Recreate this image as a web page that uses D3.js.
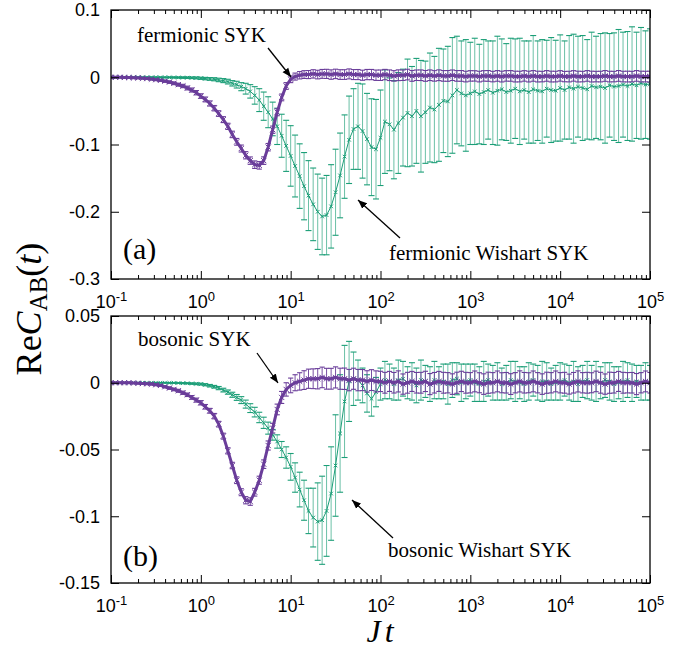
<!DOCTYPE html>
<html>
<head>
<meta charset="utf-8">
<script src="https://cdn.jsdelivr.net/npm/d3@7"></script>
<style>
  body { margin: 0; background: #fff; }
  text { fill: #000; }
</style>
</head>
<body>
<div id="chart"></div>
<script>
// time grid Jt (20 points per decade)
const jt = [
  0.1,0.112,0.126,0.141,0.158,0.178,0.2,0.224,0.251,0.282,0.316,0.355,0.398,0.447,0.501,0.562,0.631,0.708,0.794,0.891,
  1,1.12,1.26,1.41,1.58,1.78,2,2.24,2.51,2.82,3.16,3.55,3.98,4.47,5.01,5.62,6.31,7.08,7.94,8.91,
  10,11.2,12.6,14.1,15.8,17.8,20,22.4,25.1,28.2,31.6,35.5,39.8,44.7,50.1,56.2,63.1,70.8,79.4,89.1,
  100,112,126,141,158,178,200,224,251,282,316,355,398,447,501,562,631,708,794,891,
  1000,1120,1260,1410,1580,1780,2000,2240,2510,2820,3160,3550,3980,4470,5010,5620,6310,7080,7940,8910,
  10000,11200,12600,14100,15800,17800,20000,22400,25100,28200,31600,35500,39800,44700,50100,56200,63100,70800,79400,89100,
  100000
];

// (a) fermionic SYK
const fermionicSYK = [
  0,0,0,-0.0003,-0.0005,-0.0008,-0.001,-0.0015,-0.002,-0.0028,-0.0036,-0.0046,-0.0058,-0.0072,-0.009,-0.011,-0.013,-0.016,-0.019,-0.023,
  -0.028,-0.033,-0.039,-0.046,-0.054,-0.063,-0.073,-0.085,-0.096,-0.106,-0.116,-0.124,-0.13,-0.131,-0.124,-0.104,-0.078,-0.052,-0.03,-0.013,
  -0.003,0.001,0.003,0.004,0.004,0.005,0.004,0.005,0.005,0.004,0.005,0.004,0.004,0.005,0.004,0.004,0.003,0.004,0.004,0.003,
  0.003,0.004,0.003,0.002,0.003,0.003,0.004,0.002,0.003,0.003,0.002,0.003,0.002,0.003,0.002,0.002,0.003,0.002,0.002,0.001,
  0.002,0.002,0.001,0.002,0.002,0.001,0.002,0.001,0.002,0.002,0.001,0.001,0.002,0.001,0.002,0.001,0.001,0.002,0.001,0.001,
  0.002,0.001,0.001,0.002,0.001,0.001,0.002,0.001,0.001,0.001,0.002,0.001,0.001,0.002,0.001,0.001,0.001,0.002,0.001,0.001,0.001
];
const fermionicSYKErr = [
  0.0005,0.0005,0.0005,0.0006,0.0006,0.0007,0.0008,0.0009,0.001,0.0011,0.0012,0.0014,0.0016,0.0018,0.002,0.0022,0.0025,0.0028,0.003,0.0032,
  0.0034,0.0036,0.0038,0.004,0.0042,0.0044,0.0046,0.0048,0.005,0.0052,0.0054,0.0055,0.0056,0.0056,0.0056,0.0055,0.0054,0.0052,0.005,0.005,
  0.005,0.0052,0.0055,0.0058,0.006,0.0062,0.0064,0.0066,0.0068,0.007,0.007,0.0072,0.0072,0.0074,0.0074,0.0075,0.0075,0.0076,0.0076,0.0077,
  0.0078,0.0077,0.0079,0.0078,0.008,0.0078,0.0079,0.008,0.0078,0.0079,0.008,0.0079,0.0078,0.008,0.0079,0.008,0.0078,0.0079,0.008,0.0079,
  0.0078,0.0077,0.0079,0.0078,0.008,0.0078,0.0079,0.008,0.0078,0.0079,0.008,0.0079,0.0078,0.008,0.0079,0.008,0.0078,0.0079,0.008,0.0079,
  0.0078,0.0077,0.0079,0.0078,0.008,0.0078,0.0079,0.008,0.0078,0.0079,0.008,0.0079,0.0078,0.008,0.0079,0.008,0.0078,0.0079,0.008,0.0079,0.008
];

// (a) fermionic Wishart SYK
const fermionicWishart = [
  0,0,0,0,0,0,0,0,0,0,-0.0001,-0.0001,-0.0002,-0.0002,-0.0003,-0.0004,-0.0005,-0.0006,-0.0008,-0.001,
  -0.0015,-0.002,-0.0025,-0.003,-0.004,-0.005,-0.0065,-0.009,-0.011,-0.014,-0.017,-0.021,-0.027,-0.034,-0.043,-0.052,-0.062,-0.073,-0.087,-0.102,
  -0.117,-0.132,-0.147,-0.162,-0.176,-0.189,-0.2,-0.207,-0.205,-0.192,-0.171,-0.146,-0.118,-0.093,-0.077,-0.073,-0.08,-0.092,-0.104,-0.107,
  -0.09,-0.066,-0.07,-0.078,-0.068,-0.06,-0.053,-0.058,-0.05,-0.058,-0.052,-0.045,-0.048,-0.041,-0.035,-0.036,-0.027,-0.019,-0.024,-0.027,
  -0.024,-0.021,-0.025,-0.022,-0.019,-0.023,-0.02,-0.018,-0.022,-0.02,-0.017,-0.021,-0.019,-0.022,-0.018,-0.02,-0.021,-0.017,-0.019,-0.02,
  -0.016,-0.019,-0.015,-0.017,-0.014,-0.016,-0.018,-0.013,-0.015,-0.014,-0.016,-0.012,-0.014,-0.013,-0.011,-0.013,-0.01,-0.012,-0.009,-0.011,-0.01
];
const fermionicWishartErr = [
  0.0002,0.0002,0.0002,0.0002,0.0003,0.0003,0.0003,0.0004,0.0004,0.0005,0.0005,0.0006,0.0006,0.0007,0.0008,0.0009,0.001,0.0011,0.0012,0.0014,
  0.0016,0.0018,0.002,0.0023,0.0026,0.003,0.0035,0.004,0.005,0.006,0.008,0.01,0.013,0.017,0.021,0.023,0.025,0.027,0.032,0.038,
  0.045,0.046,0.048,0.05,0.052,0.054,0.056,0.057,0.059,0.062,0.064,0.063,0.062,0.065,0.06,0.064,0.07,0.068,0.072,0.074,
  0.071,0.077,0.069,0.073,0.075,0.072,0.08,0.074,0.078,0.083,0.076,0.081,0.079,0.084,0.077,0.082,0.086,0.08,0.078,0.083,
  0.076,0.079,0.074,0.078,0.073,0.077,0.081,0.075,0.072,0.078,0.074,0.079,0.073,0.076,0.08,0.074,0.077,0.072,0.078,0.075,
  0.079,0.073,0.077,0.081,0.075,0.078,0.074,0.08,0.076,0.079,0.082,0.077,0.08,0.084,0.078,0.081,0.085,0.079,0.083,0.08,0.082
];

// (b) bosonic SYK
const bosonicSYK = [
  0,0,0,0,0,-0.0002,-0.0004,-0.0006,-0.0008,-0.001,-0.0015,-0.002,-0.003,-0.004,-0.005,-0.006,-0.0075,-0.009,-0.011,-0.013,
  -0.015,-0.018,-0.021,-0.025,-0.031,-0.04,-0.051,-0.062,-0.073,-0.082,-0.088,-0.089,-0.082,-0.073,-0.061,-0.047,-0.034,-0.02,-0.011,-0.005,
  -0.002,0,0.001,0.002,0.003,0.003,0.003,0.004,0.003,0.003,0.004,0.003,0.003,0.002,0.003,0.002,0.002,0.001,0.002,0.001,
  0.001,0,0.001,0,0.001,-0.001,0,0.001,0,0,0.001,-0.001,0,0.001,0,0,-0.001,0,0.001,0,
  0,0.001,0,-0.001,0,0,0.001,0,0,-0.001,0,0.001,0,0,0.001,0,-0.001,0,0,0.001,
  0,0,-0.001,0,0.001,0,0,0,0.001,0,-0.001,0,0,0.001,0,0,0,-0.001,0,0.001,0
];
const bosonicSYKErr = [
  0.0003,0.0003,0.0003,0.0003,0.0004,0.0004,0.0004,0.0005,0.0005,0.0006,0.0006,0.0007,0.0008,0.0009,0.001,0.0011,0.0012,0.0013,0.0014,0.0015,
  0.0016,0.0017,0.0018,0.002,0.0021,0.0022,0.0023,0.0024,0.0025,0.0026,0.0027,0.0028,0.0029,0.003,0.0032,0.0034,0.0036,0.004,0.0045,0.005,
  0.0055,0.006,0.0065,0.007,0.0072,0.0074,0.0076,0.0077,0.0078,0.0078,0.0079,0.0079,0.008,0.008,0.0079,0.008,0.0079,0.008,0.0078,0.0079,
  0.0076,0.0078,0.0075,0.0077,0.0079,0.0076,0.0078,0.0075,0.0077,0.0078,0.0076,0.0079,0.0077,0.0075,0.0078,0.0076,0.0077,0.0079,0.0076,0.0078,
  0.0076,0.0078,0.0075,0.0077,0.0079,0.0076,0.0078,0.0075,0.0077,0.0078,0.0076,0.0079,0.0077,0.0075,0.0078,0.0076,0.0077,0.0079,0.0076,0.0078,
  0.0076,0.0078,0.0075,0.0077,0.0079,0.0076,0.0078,0.0075,0.0077,0.0078,0.0076,0.0079,0.0077,0.0075,0.0078,0.0076,0.0077,0.0079,0.0076,0.0078,0.0077
];

// (b) bosonic Wishart SYK
const bosonicWishart = [
  0,0,0,0,0,0,0,0,0,0,0,0,0,-0.0001,-0.0001,-0.0002,-0.0003,-0.0004,-0.0006,-0.0008,
  -0.001,-0.0015,-0.0022,-0.003,-0.004,-0.0055,-0.007,-0.009,-0.011,-0.013,-0.016,-0.019,-0.022,-0.026,-0.03,-0.034,-0.039,-0.044,-0.05,-0.056,
  -0.063,-0.071,-0.08,-0.088,-0.096,-0.101,-0.104,-0.103,-0.096,-0.083,-0.062,-0.038,-0.014,0.001,0.003,0.002,-0.002,-0.008,-0.012,-0.007,
  -0.001,0.002,0.001,-0.001,0.002,0.003,0,0.001,-0.002,0.002,0.001,-0.001,0.002,0,0.001,-0.001,0.002,0.003,0,0.001,
  0.002,0,-0.001,0.001,0.002,0,0.001,-0.001,0,0.002,0.001,0,-0.001,0.001,0.002,0,0.001,0.001,-0.001,0,
  0.001,0.002,0,0.001,-0.001,0.001,0.002,0,0.001,0,0.002,0.001,-0.001,0,0.001,0.002,0,0.001,0,0.001,0
];
const bosonicWishartErr = [
  0.0001,0.0001,0.0001,0.0001,0.0001,0.0001,0.0001,0.0001,0.0001,0.0002,0.0002,0.0002,0.0002,0.0003,0.0003,0.0003,0.0004,0.0004,0.0005,0.0006,
  0.0007,0.0008,0.0009,0.001,0.0012,0.0014,0.0016,0.0019,0.0022,0.0026,0.003,0.0033,0.0036,0.0039,0.0042,0.0045,0.004,0.005,0.006,0.008,
  0.01,0.011,0.013,0.015,0.017,0.022,0.029,0.033,0.034,0.035,0.038,0.044,0.042,0.03,0.02,0.015,0.013,0.014,0.013,0.011,
  0.012,0.014,0.013,0.012,0.015,0.013,0.012,0.014,0.013,0.015,0.012,0.013,0.014,0.012,0.013,0.015,0.013,0.012,0.014,0.013,
  0.012,0.014,0.013,0.015,0.012,0.013,0.014,0.012,0.013,0.014,0.015,0.012,0.013,0.014,0.012,0.013,0.015,0.014,0.012,0.013,
  0.014,0.012,0.013,0.015,0.013,0.012,0.014,0.013,0.015,0.012,0.013,0.014,0.013,0.012,0.015,0.013,0.014,0.012,0.013,0.014,0.013
];

// tick labels
const xTickValues = [0.1, 1, 10, 100, 1000, 10000, 100000];
const xTickExps = ["-1", "0", "1", "2", "3", "4", "5"];
const yTicksA = [0.1, 0, -0.1, -0.2, -0.3];
const yTickLabelsA = ["0.1", "0", "-0.1", "-0.2", "-0.3"];
const yTicksB = [0.05, 0, -0.05, -0.1, -0.15];
const yTickLabelsB = ["0.05", "0", "-0.05", "-0.1", "-0.15"];

const purple = "#6a3d9a";
const green = "#1b9e77";
const sansFont = "'Liberation Sans', Arial, Helvetica, sans-serif";
const serifFont = "'Liberation Serif', 'Times New Roman', serif";

const width = 688, height = 654;
const svg = d3.select("#chart").append("svg")
  .attr("width", width)
  .attr("height", height);

const x = d3.scaleLog().domain([0.1, 1e5]).range([111, 650]);
const minorTicks = x.ticks().filter(t => !xTickValues.includes(t));

const panels = [
  { id: "a", top: 10, bottom: 279, domain: [-0.3, 0.1], yTicks: yTicksA, yLabels: yTickLabelsA,
    syk: fermionicSYK, sykErr: fermionicSYKErr, wis: fermionicWishart, wisErr: fermionicWishartErr,
    tag: "(a)", tagY: 259,
    notes: [
      { text: "fermionic SYK", x: 137, y: 42, from: [268, 48], to: [291, 77] },
      { text: "fermionic Wishart SYK", x: 389, y: 260, from: [400, 238], to: [358, 200] }
    ] },
  { id: "b", top: 316, bottom: 583, domain: [-0.15, 0.05], yTicks: yTicksB, yLabels: yTickLabelsB,
    syk: bosonicSYK, sykErr: bosonicSYKErr, wis: bosonicWishart, wisErr: bosonicWishartErr,
    tag: "(b)", tagY: 566,
    notes: [
      { text: "bosonic SYK", x: 138, y: 346, from: [257, 353], to: [278, 383] },
      { text: "bosonic Wishart SYK", x: 388, y: 557, from: [393, 538], to: [352, 500] }
    ] }
];

// arrow head
svg.append("defs").append("marker")
  .attr("id", "arrow")
  .attr("viewBox", "0 0 10 10")
  .attr("refX", 10).attr("refY", 5)
  .attr("markerWidth", 9).attr("markerHeight", 9)
  .attr("markerUnits", "userSpaceOnUse")
  .attr("orient", "auto")
  .append("path")
  .attr("d", "M0,1 L10,5 L0,9 Z")
  .attr("fill", "#000");

function drawSeries(g, y, vals, errs, color, lineWidth, cap, xsize, barOpacity) {
  const pts = jt.map((t, i) => ({ t: t, v: vals[i], e: errs[i] }));

  g.append("path")
    .datum(pts)
    .attr("fill", "none")
    .attr("stroke", color)
    .attr("stroke-width", lineWidth)
    .attr("d", d3.line().x(d => x(d.t)).y(d => y(d.v)));

  const eb = g.append("g").attr("stroke", color);
  eb.selectAll("line.bar")
    .data(pts).enter().append("line")
    .attr("class", "bar")
    .attr("x1", d => x(d.t)).attr("x2", d => x(d.t))
    .attr("y1", d => y(d.v + d.e)).attr("y2", d => y(d.v - d.e))
    .attr("stroke-width", 1)
    .attr("stroke-opacity", barOpacity);
  eb.selectAll("line.capTop")
    .data(pts).enter().append("line")
    .attr("class", "capTop")
    .attr("x1", d => x(d.t) - cap).attr("x2", d => x(d.t) + cap)
    .attr("y1", d => y(d.v + d.e)).attr("y2", d => y(d.v + d.e))
    .attr("stroke-width", 1.1);
  eb.selectAll("line.capBot")
    .data(pts).enter().append("line")
    .attr("class", "capBot")
    .attr("x1", d => x(d.t) - cap).attr("x2", d => x(d.t) + cap)
    .attr("y1", d => y(d.v - d.e)).attr("y2", d => y(d.v - d.e))
    .attr("stroke-width", 1.1);

  // cross markers
  g.append("g").selectAll("path")
    .data(pts).enter().append("path")
    .attr("d", d => {
      const cx = x(d.t), cy = y(d.v), s = xsize;
      return `M${cx - s},${cy - s}L${cx + s},${cy + s}M${cx - s},${cy + s}L${cx + s},${cy - s}`;
    })
    .attr("stroke", color)
    .attr("stroke-width", 1);
}

panels.forEach(p => {
  const y = d3.scaleLinear().domain(p.domain).range([p.bottom, p.top]);
  const g = svg.append("g");

  svg.append("clipPath").attr("id", "clip-" + p.id)
    .append("rect")
    .attr("x", 111).attr("y", p.top)
    .attr("width", 539).attr("height", p.bottom - p.top);

  const plot = g.append("g").attr("clip-path", `url(#clip-${p.id})`);
  drawSeries(plot, y, p.wis, p.wisErr, green, 1, 3, 1.8, 0.65);
  drawSeries(plot, y, p.syk, p.sykErr, purple, 3, 2.6, 2.6, 0.9);

  // axes, ticks pointing inward
  const bottomAxis = g.append("g")
    .attr("transform", `translate(0,${p.bottom})`)
    .call(d3.axisBottom(x).tickValues(xTickValues).tickSizeInner(-8).tickSizeOuter(0).tickPadding(16).tickFormat(() => "10"));
  bottomAxis.selectAll(".tick text")
    .attr("font-family", sansFont).attr("font-size", 18)
    .append("tspan")
    .attr("dy", "-0.5em")
    .attr("font-size", 13)
    .text((d, i) => xTickExps[i]);
  g.append("g")
    .attr("transform", `translate(0,${p.bottom})`)
    .call(d3.axisBottom(x).tickValues(minorTicks).tickSizeInner(-4).tickSizeOuter(0).tickFormat(""));
  g.append("g")
    .attr("transform", `translate(0,${p.top})`)
    .call(d3.axisTop(x).tickValues(xTickValues).tickSizeInner(-8).tickSizeOuter(0).tickFormat(""));
  g.append("g")
    .attr("transform", `translate(0,${p.top})`)
    .call(d3.axisTop(x).tickValues(minorTicks).tickSizeInner(-4).tickSizeOuter(0).tickFormat(""));

  g.append("g")
    .attr("transform", "translate(111,0)")
    .call(d3.axisLeft(y).tickValues(p.yTicks).tickSizeInner(-8).tickSizeOuter(0).tickPadding(11)
      .tickFormat((d, i) => p.yLabels[i]))
    .selectAll(".tick text")
    .attr("font-family", sansFont).attr("font-size", 18);
  g.append("g")
    .attr("transform", "translate(650,0)")
    .call(d3.axisRight(y).tickValues(p.yTicks).tickSizeInner(-8).tickSizeOuter(0).tickFormat(""));

  g.selectAll(".domain").remove();
  g.selectAll(".tick line").attr("stroke", "#000").attr("stroke-width", 1);

  g.append("rect")
    .attr("x", 111).attr("y", p.top)
    .attr("width", 539).attr("height", p.bottom - p.top)
    .attr("fill", "none").attr("stroke", "#000").attr("stroke-width", 1.3);

  // panel tag
  g.append("text")
    .attr("x", 123).attr("y", p.tagY)
    .attr("font-family", serifFont).attr("font-size", 30)
    .text(p.tag);

  // annotations
  p.notes.forEach(n => {
    g.append("text")
      .attr("x", n.x).attr("y", n.y)
      .attr("font-family", serifFont).attr("font-size", 21)
      .text(n.text);
    g.append("line")
      .attr("x1", n.from[0]).attr("y1", n.from[1])
      .attr("x2", n.to[0]).attr("y2", n.to[1])
      .attr("stroke", "#000").attr("stroke-width", 1.3)
      .attr("marker-end", "url(#arrow)");
  });
});

// axis titles
const xt = svg.append("text")
  .attr("x", 380).attr("y", 642)
  .attr("text-anchor", "middle")
  .attr("font-family", serifFont).attr("font-size", 32).attr("font-style", "italic");
xt.append("tspan").text("J");
xt.append("tspan").attr("dx", 4).text("t");

const yt = svg.append("text")
  .attr("transform", "translate(41,309) rotate(-90)")
  .attr("text-anchor", "middle")
  .attr("font-family", serifFont).attr("font-size", 36);
yt.append("tspan").text("Re");
yt.append("tspan").attr("font-style", "italic").text("C");
yt.append("tspan").attr("font-size", 25).attr("dy", 6).text("AB");
yt.append("tspan").attr("dy", -6).text("(");
yt.append("tspan").attr("font-style", "italic").text("t");
yt.append("tspan").text(")");
</script>
</body>
</html>
